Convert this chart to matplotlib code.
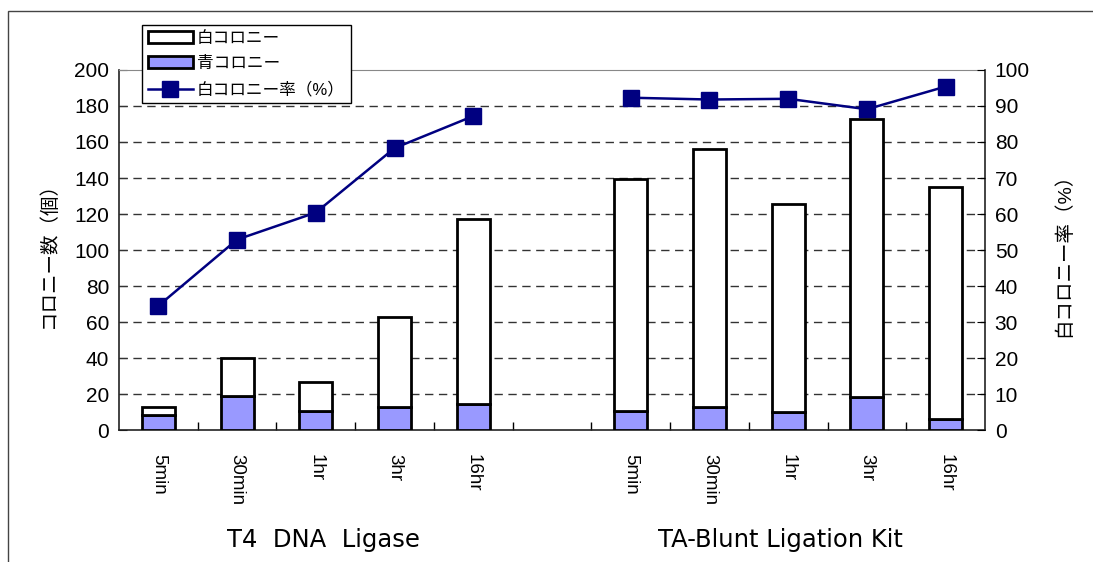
import matplotlib
matplotlib.use("Agg")
import matplotlib.pyplot as plt
from matplotlib.patches import Patch, Rectangle
from matplotlib.lines import Line2D
import numpy as np

plt.rcParams['font.family'] = ['Liberation Sans', 'Noto Sans CJK JP', 'DejaVu Sans']

# ---- data ----
time_labels = ["5min", "30min", "1hr", "3hr", "16hr"]
groups = ["T4  DNA  Ligase", "TA-Blunt Ligation Kit"]
# total colonies (white + blue) per condition
total_t4 = [13, 40, 26.5, 63, 117]
blue_t4 = [8.5, 19, 10.5, 13, 14.5]
rate_t4 = [34.5, 52.9, 60.4, 78.3, 87.2]
total_ta = [139.5, 156, 125.5, 173, 135]
blue_ta = [10.5, 13, 10, 18.5, 6]
rate_ta = [92.3, 91.8, 92.0, 89.1, 95.4]

legend_labels = ["白コロニー", "青コロニー", "白コロニー率（%）"]
ylabel_left = "コロニー数（個）"
ylabel_right = "白コロニー率（%）"

W, H = 1093, 562
fig = plt.figure(figsize=(W / 100, H / 100), dpi=100)
ax = fig.add_axes([119 / W, 1 - 430 / H, (985 - 119) / W, 360 / H])

pos_t4 = np.arange(5)
pos_ta = np.arange(6, 11)
pos = np.concatenate([pos_t4, pos_ta])
totals = np.array(total_t4 + total_ta)
blues = np.array(blue_t4 + blue_ta)
whites = totals - blues
rates = [rate_t4, rate_ta]

bw = 0.42
blue_c = "#9999FF"
ax.bar(pos, blues, bw, color=blue_c, edgecolor="black", linewidth=2, zorder=3)
ax.bar(pos, whites, bw, bottom=blues, color="white", edgecolor="black", linewidth=2, zorder=3)

ax.set_xlim(-0.5, 10.5)
ax.set_ylim(0, 200)
ax.set_yticks(np.arange(0, 201, 20))
ax.set_axisbelow(True)
for v in range(20, 200, 20):
    ax.axhline(v, color="#333333", lw=1, ls=(0, (6, 4)), zorder=1)

ax.set_xticks(pos)
ax.set_xticklabels(time_labels + time_labels, rotation=-90, fontsize=13.5)
ax.tick_params(axis="x", which="major", length=0, pad=17)
ax.set_xticks(np.arange(0.5, 10.5, 1), minor=True)
ax.tick_params(axis="x", which="minor", length=6, direction="in", width=1)
ax.tick_params(axis="y", direction="in", length=6, labelsize=15, pad=7)
ax.set_ylabel(ylabel_left, fontsize=14, labelpad=12)

for sp in ["top"]:
    ax.spines[sp].set_color("#888888")
for sp in ["left", "right", "bottom"]:
    ax.spines[sp].set_color("#222222")
    ax.spines[sp].set_linewidth(1.2)

ax2 = ax.twinx()
ax2.set_ylim(0, 100)
ax2.set_yticks(np.arange(0, 101, 10))
ax2.tick_params(axis="y", direction="in", length=6, labelsize=15, pad=7)
ax2.set_ylabel(ylabel_right, fontsize=14, rotation=90, labelpad=18)
navy = "#000080"
for p, r in zip([pos_t4, pos_ta], rates):
    ax2.plot(p, r, color=navy, lw=1.8, marker="s", markersize=12, zorder=5)
for sp in ax2.spines.values():
    sp.set_visible(False)

handles = [
    Patch(facecolor="white", edgecolor="black", linewidth=2),
    Patch(facecolor=blue_c, edgecolor="black", linewidth=2),
    Line2D([], [], color=navy, lw=1.8, marker="s", markersize=12),
]
leg = ax2.legend(handles, legend_labels, loc="upper left",
                 bbox_to_anchor=(142 / W, 1 - 25 / H), bbox_transform=fig.transFigure,
                 borderaxespad=0, fancybox=False, framealpha=1, edgecolor="black",
                 fontsize=12, handlelength=2.7, handletextpad=0.25, labelspacing=0.62,
                 borderpad=0.35)
leg.get_frame().set_linewidth(1)
leg.set_zorder(10)

fig.text(323 / W, 1 - 540 / H, groups[0], ha="center", va="center", fontsize=17.5,
         family=["DejaVu Sans"])
fig.text(780 / W, 1 - 540 / H, groups[1], ha="center", va="center", fontsize=17.5,
         family=["DejaVu Sans"])

# outer frame
fig.patches.append(Rectangle((8 / W, -0.1), 1.2, 1 - 11 / H + 0.1, transform=fig.transFigure,
                             fill=False, edgecolor="#444444", lw=1))

fig.savefig("out.png", dpi=100)
